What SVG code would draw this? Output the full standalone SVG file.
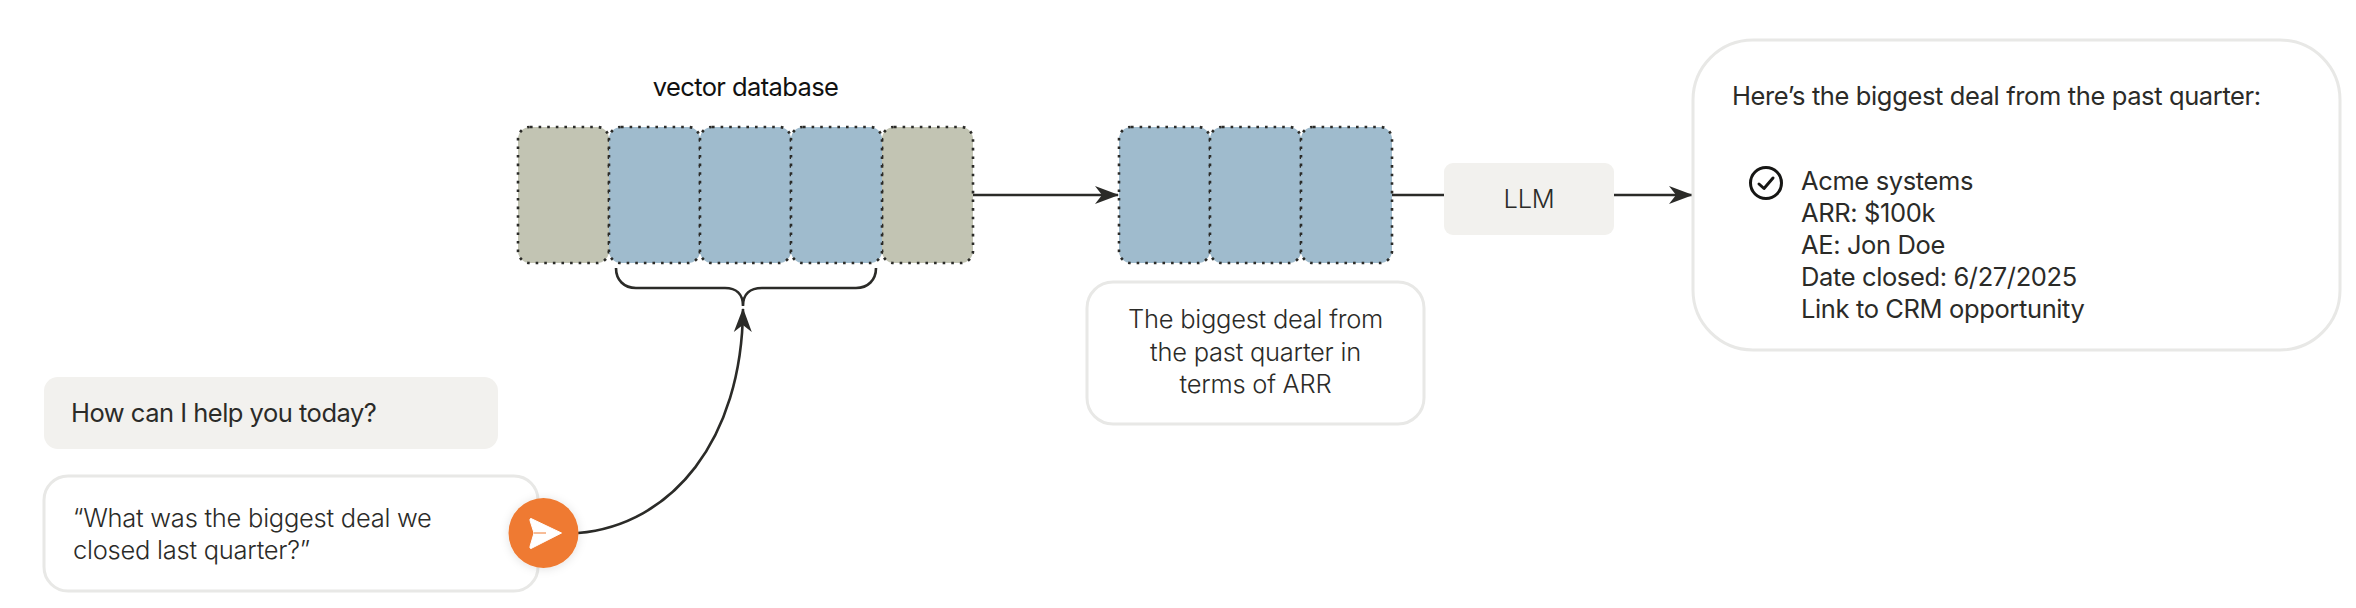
<svg xmlns="http://www.w3.org/2000/svg" width="2356" height="608" viewBox="0 0 2356 608">
<style>
text{font-family:Inter,"Noto Sans","Liberation Sans",sans-serif;fill:#2b2b28;font-size:25.5px}
.l{font-weight:300;letter-spacing:-.25px}
.n{font-weight:400;letter-spacing:-.38px}
.mid{text-anchor:middle}
.cell{stroke:#2b2b28;stroke-width:2.6;stroke-dasharray:2.6 6}
.blue{fill:#9fbbcd}
.olive{fill:#c2c4b3}
.gray{fill:#f2f1ee}
.card{fill:#fff;stroke:#e8e8e6;stroke-width:3}
.wire{fill:none;stroke:#2b2b28;stroke-width:2.6}
</style>
<defs>
<marker id="arrow" viewBox="0 0 24 20" refX="23" refY="10" markerWidth="24" markerHeight="20" markerUnits="userSpaceOnUse" orient="auto">
<path d="M0 1 L24 10 L0 19 L7 10 Z" fill="#2b2b28"/>
</marker>
<filter id="soft" x="-30%" y="-30%" width="160%" height="160%"><feDropShadow dx="0" dy="1" stdDeviation="5" flood-color="#000" flood-opacity=".12"/></filter>
</defs>
<g id="vector-database-label"><text class="n mid" style="fill:#111;letter-spacing:-.6px" x="745.500" y="96">vector database</text></g>
<g id="vector-database">
<rect class="cell olive" x="518" y="127" width="91" height="136" rx="12"/>
<rect class="cell olive" x="882" y="127" width="91" height="136" rx="12"/>
<rect class="cell blue" x="609" y="127" width="91" height="136" rx="12"/>
<rect class="cell blue" x="700" y="127" width="91" height="136" rx="12"/>
<rect class="cell blue" x="791" y="127" width="91" height="136" rx="12"/>
</g>
<g id="retrieved-chunks">
<rect class="cell blue" x="1119" y="127" width="91" height="136" rx="12"/>
<rect class="cell blue" x="1210" y="127" width="91" height="136" rx="12"/>
<rect class="cell blue" x="1301" y="127" width="91" height="136" rx="12"/>
</g>
<g id="connectors">
<path class="wire" d="M616 268 C616 280 624 288 636 288 L725 288 C736 288 743 294 743 306 C743 294 750 288 762 288 L856 288 C868 288 876 280 876 268"/>
<path class="wire" marker-end="url(#arrow)" d="M578 533 C672 525 742 440 743 309"/>
<path class="wire" marker-end="url(#arrow)" d="M973 195 L1118 195"/>
<path class="wire" d="M1392 195 L1444 195"/>
<path class="wire" marker-end="url(#arrow)" d="M1614 195 L1692 195"/>
</g>
<g id="greeting">
<rect class="gray" x="44" y="377" width="454" height="72" rx="14"/>
<text class="n" style="letter-spacing:-.5px" x="71" y="422">How can I help you today?</text>
</g>
<g id="question">
<rect class="card" x="44" y="476" width="494" height="115" rx="24"/>
<text class="l" x="73" y="527">“What was the biggest deal we</text>
<text class="l" x="73" y="559">closed last quarter?”</text>
</g>
<g id="send-button">
<circle cx="543.500" cy="533" r="35" fill="#ef7a30" filter="url(#soft)"/>
<path d="M531 518.500 L561.500 533 L531 548.500 Q529.500 548.500 530 546.500 L534 533 L530 520.500 Q529.500 518.500 531 518.500 Z" fill="#fff" stroke="#fff" stroke-linejoin="round"/>
<path d="M534 533 L546 533" stroke="#ef7a30" stroke-width="1"/>
</g>
<g id="query-caption">
<rect class="card" x="1087" y="282" width="337" height="142" rx="26"/>
<text class="l mid" x="1255.500" y="328">The biggest deal from</text>
<text class="l mid" x="1255.500" y="361">the past quarter in</text>
<text class="l mid" x="1255.500" y="393">terms of ARR</text>
</g>
<g id="llm">
<rect class="gray" x="1444" y="163" width="170" height="72" rx="9"/>
<text class="l mid" x="1529" y="208">LLM</text>
</g>
<g id="answer">
<rect class="card" x="1693" y="40" width="647" height="310" rx="60"/>
<text class="n" x="1732" y="105">Here’s the biggest deal from the past quarter:</text>
<circle cx="1766" cy="183" r="15.500" fill="none" stroke="#161614" stroke-width="3"/>
<path d="M1759 184 L1764 188.500 L1773 178" fill="none" stroke="#161614" stroke-width="3" stroke-linecap="round" stroke-linejoin="round"/>
<text class="n" x="1801" y="190">Acme systems</text>
<text class="n" x="1801" y="222">ARR: $100k</text>
<text class="n" x="1801" y="254">AE: Jon Doe</text>
<text class="n" x="1801" y="286">Date closed: 6/27/2025</text>
<text class="n" x="1801" y="318">Link to CRM opportunity</text>
</g>
</svg>
